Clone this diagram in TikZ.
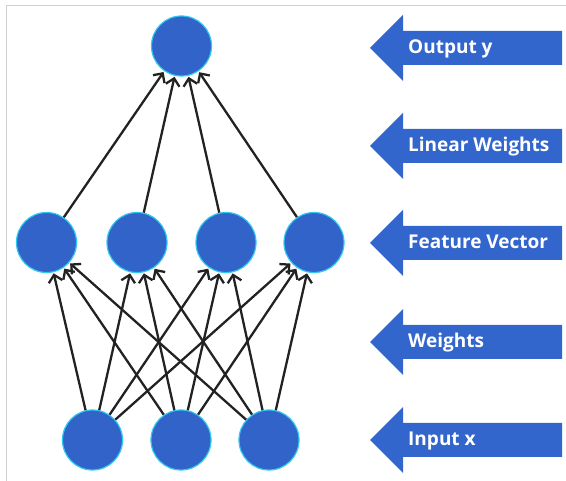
\documentclass[tikz,border=0pt]{standalone}
\usepackage{fontspec}
\setmainfont{Open Sans}
\usetikzlibrary{arrows.meta}
\definecolor{nodeblue}{HTML}{3163C8}
\definecolor{ringcyan}{HTML}{30C8F0}
\definecolor{arrowblue}{HTML}{3366CC}
\definecolor{edgedark}{HTML}{222222}
\tikzset{
  neuron/.style={circle, fill=nodeblue, draw=ringcyan, line width=1.2pt, minimum size=60pt, inner sep=0pt},
  conn/.style={draw=edgedark, line width=2.3pt, -{Straight Barb[length=7pt,width=14pt]}, shorten >=1pt},
  blockarrow/.style={fill=arrowblue},
  lab/.style={anchor=base west, text=white, font=\fontsize{19}{22}\selectfont\bfseries, inner sep=0pt},
  frame/.style={draw=black!18, line width=1pt}
}
\begin{document}
\begin{tikzpicture}[x=1pt,y=-1pt]
\useasboundingbox (0,0) rectangle (566,481);
\draw[frame] (6,481) -- (6,5.5) -- (566,5.5);
% nodes
\node[neuron] (o) at (181.5,46) {};
\node[neuron] (h1) at (46.5,242.5) {};
\node[neuron] (h2) at (137,242.5) {};
\node[neuron] (h3) at (226,242.5) {};
\node[neuron] (h4) at (314,242.5) {};
\node[neuron] (i1) at (92.5,440) {};
\node[neuron] (i2) at (181,440) {};
\node[neuron] (i3) at (269,440) {};
% connectors hidden -> output
\foreach \h in {h1,h2,h3,h4} \draw[conn] (\h) -- (o);
% connectors input -> hidden
\foreach \i in {i1,i2,i3} \foreach \h in {h1,h2,h3,h4} \draw[conn] (\i) -- (\h);
% block arrows with labels
\fill[blockarrow] (370,48) -- (403,15) -- (403,31) -- (562,31) -- (562,65) -- (403,65) -- (403,81) -- cycle;
\node[lab] (ly) at (408,54) {Output y};
\fill[blockarrow] (370,146) -- (403,113) -- (403,129) -- (562,129) -- (562,163) -- (403,163) -- (403,179) -- cycle;
\node[lab] (lw) at (408,152) {Linear Weights};
\fill[blockarrow] (370,243) -- (403,210) -- (403,226) -- (562,226) -- (562,260) -- (403,260) -- (403,276) -- cycle;
\node[lab] (lf) at (408,249) {Feature Vector};
\fill[blockarrow] (370,342) -- (403,309) -- (403,325) -- (562,325) -- (562,359) -- (403,359) -- (403,375) -- cycle;
\node[lab] (lwt) at (408,348) {Weights};
\fill[blockarrow] (370,440) -- (403,407) -- (403,423) -- (562,423) -- (562,457) -- (403,457) -- (403,473) -- cycle;
\node[lab] (lx) at (408,446) {Input x};
\end{tikzpicture}
\end{document}
